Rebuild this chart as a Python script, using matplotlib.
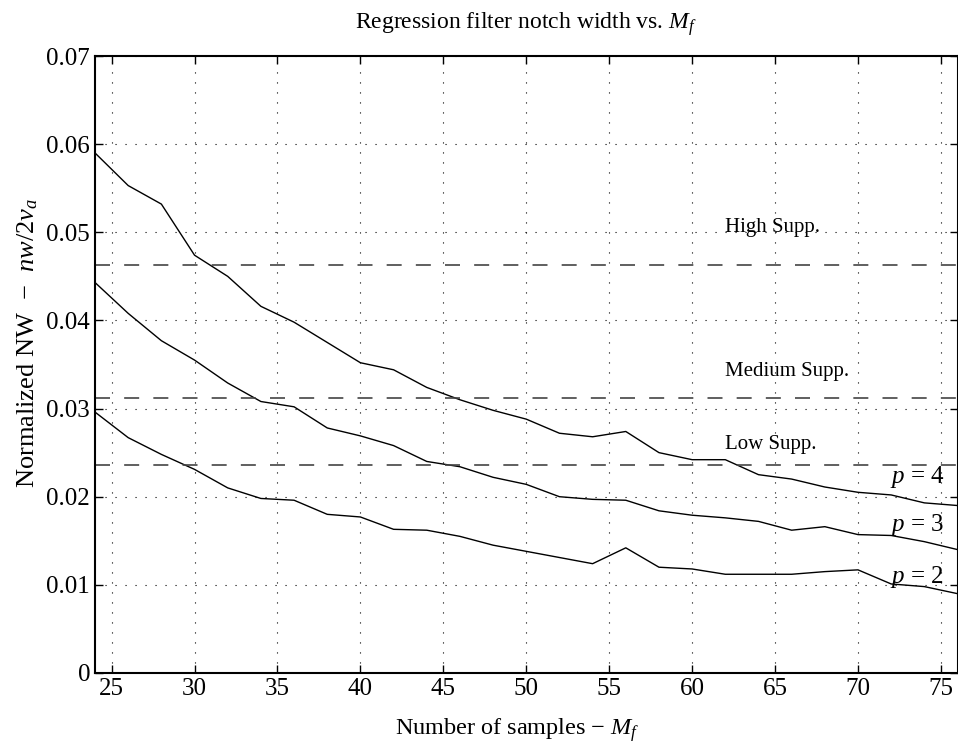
import numpy as np
import matplotlib
matplotlib.use("Agg")
import matplotlib.pyplot as plt
from matplotlib.ticker import FormatStrFormatter

plt.rcParams['font.family'] = ['Liberation Serif', 'DejaVu Serif']
plt.rcParams['mathtext.fontset'] = 'custom'
plt.rcParams['mathtext.rm'] = 'Liberation Serif'
plt.rcParams['mathtext.it'] = 'Liberation Serif:italic'

# Datos
M_f = np.arange(24, 77, 2)

nw_p4 = [0.0590, 0.0553, 0.0532, 0.0474, 0.0450, 0.0416, 0.0398, 0.0375, 0.0352,
         0.0344, 0.0324, 0.0310, 0.0298, 0.0288, 0.0272, 0.0268, 0.0274, 0.0250,
         0.0242, 0.0242, 0.0225, 0.0220, 0.0211, 0.0205, 0.0202, 0.0193, 0.0190]
nw_p3 = [0.0443, 0.0408, 0.0377, 0.0355, 0.0329, 0.0308, 0.0302, 0.0278, 0.0269,
         0.0258, 0.0240, 0.0234, 0.0222, 0.0214, 0.0200, 0.0197, 0.0196, 0.0184,
         0.0179, 0.0176, 0.0172, 0.0162, 0.0166, 0.0157, 0.0156, 0.0149, 0.0140]
nw_p2 = [0.0296, 0.0267, 0.0248, 0.0231, 0.0210, 0.0198, 0.0196, 0.0180, 0.0177,
         0.0163, 0.0162, 0.0155, 0.0145, 0.0138, 0.0131, 0.0124, 0.0142, 0.0120,
         0.0118, 0.0112, 0.0112, 0.0112, 0.0115, 0.0117, 0.0101, 0.0098, 0.0090]

# Niveles de supresion (lineas discontinuas)
supp_levels = [0.0463, 0.0312, 0.0236]
supp_names = ['High Supp.', 'Medium Supp.', 'Low Supp.']
supp_label_y = [0.0506, 0.0342, 0.0259]

p_names = [r'$p$ = 4', r'$p$ = 3', r'$p$ = 2']
p_label_y = [0.0222, 0.0168, 0.0109]

fig = plt.figure(figsize=(9.58, 7.48), dpi=100)
ax = fig.add_axes([0.0992, 0.1003, 0.9003, 0.8248])

for y in [nw_p4, nw_p3, nw_p2]:
    ax.plot(M_f, y, color='black', linewidth=1.0)

for lvl in supp_levels:
    ax.axhline(lvl, color='#444444', linewidth=1.2, dashes=(9, 8.5))

for name, y in zip(supp_names, supp_label_y):
    ax.text(62.0, y, name, fontsize=15, va='center', ha='left')

for name, y in zip(p_names, p_label_y):
    ax.text(71.9, y, name, fontsize=18, va='center', ha='left')

ax.set_xlim(24, 76)
ax.set_ylim(0, 0.07)
ax.set_xticks(np.arange(25, 76, 5))
ax.set_yticks(np.arange(0, 0.071, 0.01))
ax.yaxis.set_major_formatter(FormatStrFormatter('%g'))
ax.tick_params(direction='in', top=True, right=True, labelsize=18, length=6, width=1)
ax.grid(True, color='black', linestyle=(0, (1, 8)), linewidth=0.8)
for s in ax.spines.values():
    s.set_linewidth(1.5)

ax.set_title(r'Regression filter notch width vs. $M_f$', fontsize=17, pad=20)
ax.set_xlabel(r'Number of samples $-$ $M_f$', fontsize=17.5)
ax.set_ylabel(r'Normalized NW  $-$  $nw/2v_a$', fontsize=19)
ax.yaxis.set_label_coords(-0.064, 0.535)
ax.xaxis.set_label_coords(0.49, -0.07)

plt.savefig("out.png", dpi=100)
